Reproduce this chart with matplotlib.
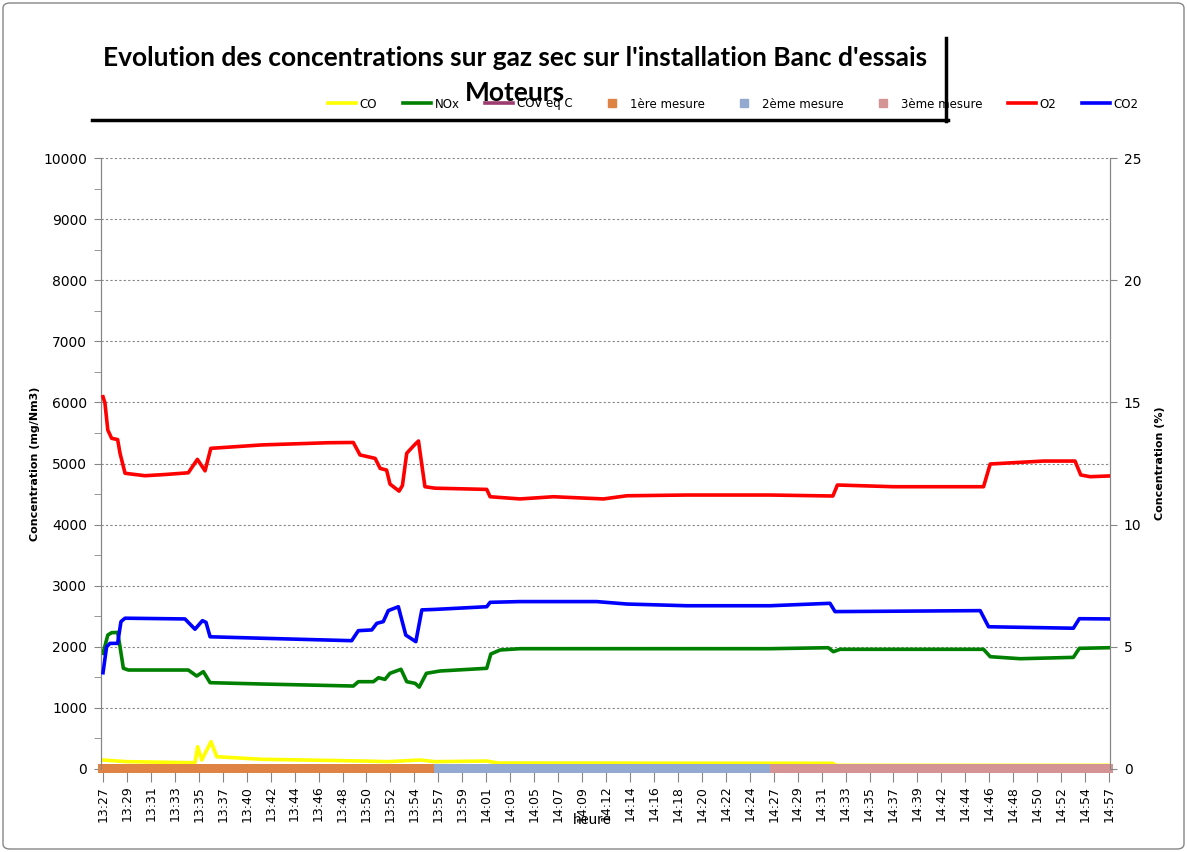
import matplotlib
matplotlib.use('Agg')
import matplotlib.pyplot as plt
from matplotlib.lines import Line2D
from matplotlib.patches import FancyBboxPatch

# axe des heures (catégories Excel)
heures = ['13:27', '13:29', '13:31', '13:33', '13:35', '13:37', '13:40', '13:42',
          '13:44', '13:46', '13:48', '13:50', '13:52', '13:54', '13:57', '13:59',
          '14:01', '14:03', '14:05', '14:07', '14:09', '14:12', '14:14', '14:16',
          '14:18', '14:20', '14:22', '14:24', '14:27', '14:29', '14:31', '14:33',
          '14:35', '14:37', '14:39', '14:42', '14:44', '14:46', '14:48', '14:50',
          '14:52', '14:54', '14:57']

# instants relevés, en rang de graduation (0 = 13:27, 42 = 14:57)
o2_t = [0, 0.08, 0.2, 0.36, 0.61, 0.71, 0.92, 1.75, 2.6, 3.56, 3.94, 4.26, 4.5,
        6.63, 9.41, 10.45, 10.73, 11.36, 11.57, 11.84, 11.98, 12.36, 12.5, 12.68,
        13.03, 13.17, 13.44, 13.86, 16.02, 16.16, 17.41, 18.8, 20.89, 21.87, 24.37,
        27.85, 30.47, 30.66, 33.0, 36.76, 37.04, 39.26, 40.58, 40.82, 41.21, 42.0]
o2_pct = [15.23, 14.98, 13.87, 13.53, 13.48, 12.92, 12.1, 12.0, 12.05, 12.12, 12.67,
          12.2, 13.12, 13.26, 13.35, 13.36, 12.85, 12.71, 12.3, 12.23, 11.66, 11.37,
          11.6, 12.92, 13.29, 13.42, 11.55, 11.49, 11.44, 11.14, 11.05, 11.14, 11.05,
          11.18, 11.21, 11.21, 11.17, 11.62, 11.55, 11.55, 12.48, 12.6, 12.6, 12.03,
          11.96, 11.99]

co2_t = [0, 0.15, 0.29, 0.61, 0.75, 0.92, 3.42, 3.84, 4.15, 4.3, 4.47, 6.63, 10.38,
         10.66, 11.22, 11.43, 11.7, 11.91, 12.33, 12.64, 13.06, 13.31, 13.86, 16.02,
         16.16, 17.41, 20.61, 21.87, 24.37, 27.85, 30.35, 30.56, 36.62, 36.97, 40.51,
         40.76, 42.0]
co2_pct = [3.94, 5.0, 5.14, 5.14, 6.03, 6.17, 6.14, 5.72, 6.07, 6.0, 5.41, 5.35, 5.25,
           5.66, 5.69, 5.96, 6.03, 6.48, 6.64, 5.48, 5.21, 6.51, 6.53, 6.64, 6.82,
           6.85, 6.85, 6.75, 6.68, 6.68, 6.78, 6.44, 6.48, 5.82, 5.76, 6.15, 6.14]

nox_t = [0, 0.2, 0.36, 0.61, 0.71, 0.85, 1.06, 3.56, 3.91, 4.19, 4.47, 6.63, 10.45,
         10.66, 11.29, 11.5, 11.77, 11.98, 12.44, 12.68, 13.03, 13.2, 13.5, 14.07,
         16.02, 16.19, 16.58, 17.41, 27.85, 30.28, 30.49, 30.77, 36.76, 37.04, 38.29,
         40.51, 40.76, 42.0]
nox_mg = [1893, 2193, 2231, 2235, 2002, 1648, 1620, 1620, 1522, 1593, 1413, 1391,
          1358, 1429, 1429, 1494, 1467, 1566, 1632, 1429, 1402, 1340, 1566, 1604,
          1648, 1882, 1948, 1969, 1969, 1985, 1920, 1959, 1959, 1838, 1805, 1827,
          1975, 1985]

co_t = [0, 1.0, 3.84, 3.95, 4.12, 4.51, 4.75, 6.63, 10.8, 11.9, 13.24, 13.86, 16.02,
        16.5, 30.47, 30.6, 42.0]
co_mg = [147, 120, 103, 365, 147, 447, 201, 159, 131, 120, 147, 120, 130, 98, 93, 60, 60]

cov_t = [0, 42.0]
cov_mg = [0, 0]

# périodes de mesure (bandeau en pied de graphique)
mesures = ['1ère mesure', '2ème mesure', '3ème mesure']
mesure_debut = [-0.2, 13.82, 27.85]
mesure_fin = [13.82, 27.85, 42.15]
mesure_couleurs = ['#DE8344', '#93A9CF', '#D49494']

fig = plt.figure(figsize=(11.87, 8.52), dpi=100)
ax = fig.add_axes([101 / 1187, 1 - 769 / 852, 1009 / 1187, 611 / 852])
ax2 = ax.twinx()

gris = '#868686'

# courbes mg/Nm3 (axe gauche)
ax.plot(cov_t, cov_mg, color='#9B3B6E', lw=2.6, zorder=2)
ax.plot(co_t, co_mg, color='#FFFF00', lw=2.6, zorder=2)
for d, f, c in zip(mesure_debut, mesure_fin, mesure_couleurs):
    ax.bar(d, 147, width=f - d, bottom=-65, align='edge', color=c,
           clip_on=False, zorder=3)
ax.plot(nox_t, nox_mg, color='#008000', lw=2.6, zorder=4)

# courbes en % (axe droit)
ax2.plot(o2_t, o2_pct, color='#FF0000', lw=2.6, zorder=4)
ax2.plot(co2_t, co2_pct, color='#0000FF', lw=2.6, zorder=4)

ax.set_xlim(-0.084, 42.04)
ax.set_ylim(0, 10000)
ax2.set_ylim(0, 25)
ax.set_yticks(range(0, 10001, 1000))
ax.set_yticks(range(500, 10000, 1000), minor=True)
ax2.set_yticks(range(0, 26, 5))
ax.set_xticks(range(len(heures)))
ax.set_xticklabels(heures, rotation=90, fontsize=9)
ax.yaxis.grid(True, color=gris, linestyle=(0, (2, 2)), lw=0.8)
ax.set_axisbelow(True)

for a in (ax, ax2):
    a.spines['top'].set_visible(False)
    a.spines['bottom'].set_visible(False)
    a.spines['left'].set_color(gris)
    a.spines['right'].set_color(gris)
ax.tick_params(axis='y', which='both', direction='out', length=5, color=gris,
               labelsize=10, pad=5)
ax2.tick_params(axis='y', direction='out', length=5, color=gris, labelsize=10, pad=5)
ax.tick_params(axis='x', direction='out', length=9, color=gris, pad=3)

ax.set_ylabel('Concentration (mg/Nm3)', fontsize=8, fontweight='bold', labelpad=2)
ax2.set_ylabel('Concentration (%)', fontsize=8, fontweight='bold', labelpad=10)
fig.text(592 / 1187, 1 - 820 / 852, 'heure', ha='center', va='center',
         family='Lato', fontsize=11)

# titre avec son cadre ombré
fig.text(515 / 1187, 1 - 58 / 852,
         "Evolution des concentrations sur gaz sec sur l'installation Banc d'essais",
         ha='center', va='center', family='Lato', fontweight='bold', fontsize=19)
fig.text(515 / 1187, 1 - 93 / 852, 'Moteurs', ha='center', va='center',
         family='Lato', fontweight='bold', fontsize=19)
fig.add_artist(Line2D([92 / 1187, 948 / 1187], [1 - 120 / 852, 1 - 120 / 852],
                      color='black', lw=2.5))
fig.add_artist(Line2D([946 / 1187, 946 / 1187], [1 - 38 / 852, 1 - 121 / 852],
                      color='black', lw=2.5))

# légende
poignees = [
    Line2D([], [], color='#FFFF00', lw=2.6),
    Line2D([], [], color='#008000', lw=2.6),
    Line2D([], [], color='#9B3B6E', lw=2.6),
]
poignees += [Line2D([], [], color=c, marker='s', ls='none', markersize=6)
             for c in mesure_couleurs]
poignees += [Line2D([], [], color='#FF0000', lw=2.6),
             Line2D([], [], color='#0000FF', lw=2.6)]
libelles = ['CO', 'NOx', 'COV eq C'] + mesures + ['O2', 'CO2']
fig.legend(poignees, libelles, loc='center left',
           bbox_to_anchor=(328 / 1187, 1 - 104 / 852), ncol=8, frameon=False,
           fontsize=8.5, handlelength=2.4, handletextpad=0.3, columnspacing=2.15,
           borderpad=0, borderaxespad=0)

# bordure de la zone de graphique
fig.add_artist(FancyBboxPatch((3 / 1187, 3 / 852), 1181 / 1187, 846 / 852,
                              boxstyle='round,pad=0,rounding_size=0.006',
                              transform=fig.transFigure, fill=False,
                              edgecolor=gris, lw=1))

fig.savefig('out.png', dpi=100)
